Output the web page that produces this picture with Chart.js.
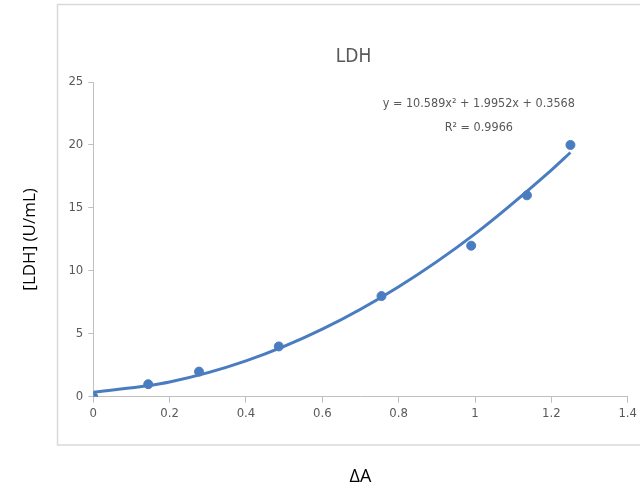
<!DOCTYPE html>
<html>
<head>
<meta charset="utf-8">
<script src="https://cdn.jsdelivr.net/npm/chart.js@4/dist/chart.umd.min.js"></script>
<style>
  html, body { margin: 0; padding: 0; background: #fff; }
  #wrap { width: 640px; height: 492px; }
</style>
</head>
<body>
<div id="wrap"><canvas id="ldh-chart"></canvas></div>
<script>
// measured points
var deltaA = [0, 0.144, 0.277, 0.486, 0.755, 0.99, 1.136, 1.25];
var ldh = [0, 1, 2, 4, 8, 12, 16, 20];

// trendline
var trendX = [0, 0.2, 0.4, 0.6, 0.8, 1.0, 1.2, 1.25];
var trendY = [0.36, 1.18, 2.85, 5.37, 8.74, 12.94, 18.0, 19.4];

var xTicks = [0, 0.2, 0.4, 0.6, 0.8, 1, 1.2, 1.4];
var yTicks = [0, 5, 10, 15, 20, 25];

var chartTitle = 'LDH';
var equationLines = ["y = 10.589x\u00b2 + 1.9952x + 0.3568", "R\u00b2 = 0.9966"];

var blue = '#4a7dc0';
var grey = '#595959';
var narrow = "'Liberation Sans Narrow', 'DejaVu Sans Condensed', sans-serif";

//Border of the chart area, title over the plot and trendline label
var excelBits = {
  id: 'excelBits',
  beforeDraw: function(chart) {
    var c = chart.ctx;
    c.save();
    c.strokeStyle = '#d9d9d9';
    c.lineWidth = 1.5;
    c.strokeRect(57.5, 4.5, 590, 440.5);
    c.restore();
  },
  afterDraw: function(chart) {
    var c = chart.ctx;
    var xs = chart.scales.x, ys = chart.scales.y;
    var area = chart.chartArea;
    c.save();
    c.fillStyle = grey;
    c.textAlign = 'center';
    c.textBaseline = 'middle';
    c.font = '19px ' + narrow;
    c.fillText(chartTitle, (area.left + area.right) / 2 - 7, area.top - 25);
    c.font = '12.5px ' + narrow;
    var cx = xs.getPixelForValue(1.01);
    c.fillText(equationLines[0], cx, ys.getPixelForValue(23.3));
    c.fillText(equationLines[1], cx, ys.getPixelForValue(21.4));
    c.restore();
  }
};

var ctx = document.getElementById('ldh-chart');

var chart = new Chart(ctx, {
  type: 'scatter',
  data: {
    datasets: [{
      label: 'LDH',
      data: deltaA.map(function(v, i) { return { x: v, y: ldh[i] }; }),
      backgroundColor: blue,
      borderColor: blue,
      pointRadius: 4.5,
      pointHoverRadius: 4.5,
      order: 1
    }, {
      label: 'Poly. (LDH)',
      type: 'line',
      data: trendX.map(function(v, i) { return { x: v, y: trendY[i] }; }),
      borderColor: blue,
      borderWidth: 3,
      pointRadius: 0,
      fill: false,
      cubicInterpolationMode: 'monotone',
      order: 2
    }]
  },
  options: {
    responsive: true,
    maintainAspectRatio: false,
    animation: false,
    layout: { padding: { top: 82, right: 0, bottom: 0, left: 0 } },
    plugins: {
      legend: { display: false },
      tooltip: { enabled: false },
      title: { display: false }
    },
    scales: {
      x: {
        type: 'linear',
        min: 0,
        max: 1.4,
        afterBuildTicks: function(axis) {
          axis.ticks = xTicks.map(function(v) { return { value: v }; });
        },
        border: { color: '#bfbfbf', width: 1 },
        grid: { display: true, drawOnChartArea: false, tickLength: 6, color: '#bfbfbf' },
        ticks: {
          color: grey,
          font: { family: narrow, size: 13 },
          padding: 3,
          maxRotation: 0,
          callback: function(v) { return String(Math.round(v * 10) / 10); }
        },
        title: {
          display: true,
          text: '\u0394A',
          color: '#000',
          font: { family: "'Open Sans', sans-serif", size: 18 },
          padding: { top: 42, bottom: 4 }
        }
      },
      y: {
        type: 'linear',
        min: 0,
        max: 25,
        afterBuildTicks: function(axis) {
          axis.ticks = yTicks.map(function(v) { return { value: v }; });
        },
        border: { color: '#bfbfbf', width: 1 },
        grid: { display: true, drawOnChartArea: false, tickLength: 5, color: '#bfbfbf' },
        ticks: {
          color: grey,
          font: { family: narrow, size: 13 },
          padding: 5
        },
        title: {
          display: true,
          text: '[LDH] (U/mL)',
          color: '#000',
          font: { family: "'Open Sans', sans-serif", size: 17 },
          padding: { top: 20, bottom: 23 }
        }
      }
    }
  },
  plugins: [excelBits]
});
</script>
</body>
</html>
